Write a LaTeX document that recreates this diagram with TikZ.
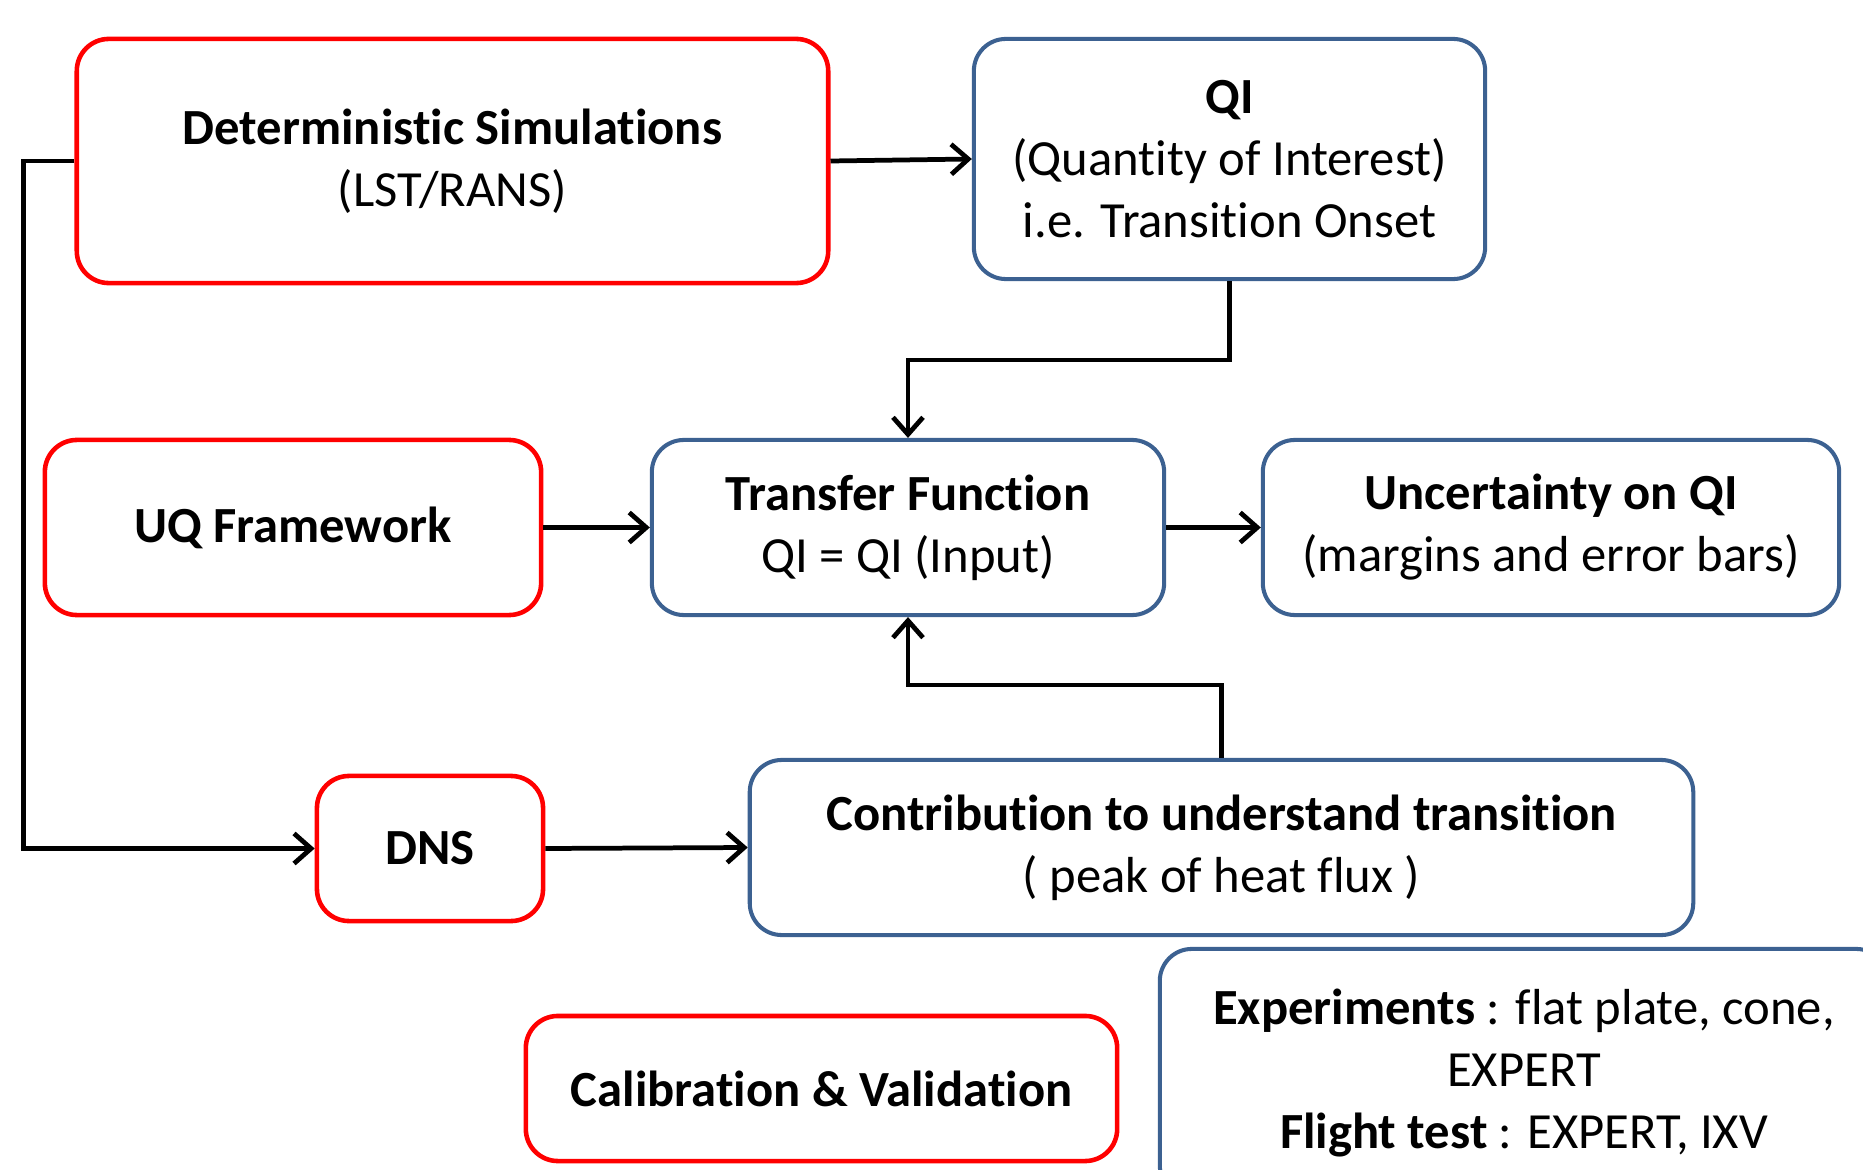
\documentclass[tikz,border=0pt]{standalone}
\usepackage{fontspec}
\setmainfont{Carlito}[Ligatures=NoCommon]
\usetikzlibrary{arrows.meta}
\definecolor{boxred}{RGB}{255,0,0}
\definecolor{boxblue}{RGB}{60,97,145}
\begin{document}
\begin{tikzpicture}[x=0.01cm,y=-0.01cm]
      \tikzstyle{every node}+=[inner sep=0pt, align=center, font=\fontsize{14.4}{17.6}\selectfont]
      \tikzstyle{redbox}=[draw=boxred, line width=1.3pt, rounded corners=0.32cm]
      \tikzstyle{bluebox}=[draw=boxblue, line width=1.15pt, rounded corners=0.32cm]
      \tikzstyle{flow}=[line width=1.35pt, -{Straight Barb[length=0.17cm, width=0.3cm, line width=1.35pt]}]
      \clip (0,0) rectangle (1863,1170);
      \node [redbox, minimum width=7.51cm, minimum height=2.44cm] (det) at (452.5,161) {\textbf{Deterministic Simulations}\\(LST/RANS)};
      \node [bluebox, minimum width=5.11cm, minimum height=2.40cm] (qi) at (1229.5,159) {\textbf{QI}\\(Quantity of Interest)\\i.e. Transition Onset};
      \node [redbox, minimum width=4.96cm, minimum height=1.75cm] (uq) at (293,527.5) {\textbf{UQ Framework}};
      \node [bluebox, minimum width=5.12cm, minimum height=1.75cm] (tf) at (908,527.5) {\textbf{Transfer Function}\\QI = QI (Input)};
      \node [bluebox, minimum width=5.76cm, minimum height=1.75cm] (unc) at (1551,527.5) {\textbf{Uncertainty on QI}\\(margins and error bars)};
      \node [redbox, minimum width=2.26cm, minimum height=1.45cm] (dns) at (430,848.5) {\textbf{DNS}};
      \node [bluebox, minimum width=9.43cm, minimum height=1.75cm] (contr) at (1221.5,847.5) {\textbf{Contribution to understand transition}\\( peak of heat flux )};
      \node [redbox, minimum width=5.91cm, minimum height=1.45cm] (calib) at (821.5,1088.5) {\textbf{Calibration \& Validation}};
      \node [bluebox, minimum width=7.28cm, minimum height=2.48cm] (exp) at (1524,1073) {\textbf{Experiments} : flat plate, cone,\\EXPERT\\\textbf{Flight test} : EXPERT, IXV};
      \draw [flow] (det.east) -- (qi.west);
      \draw [flow] (qi.south) -- ++(0,79) -| (tf.north);
      \draw [flow] (uq.east) -- (tf.west);
      \draw [flow] (tf.east) -- (unc.west);
      \draw [flow] (det.west) -- ++(-51,0) |- (dns.west);
      \draw [flow] (dns.east) -- (contr.west);
      \draw [flow] (contr.north) -- ++(0,-73) -| (tf.south);
    \end{tikzpicture}
\end{document}
